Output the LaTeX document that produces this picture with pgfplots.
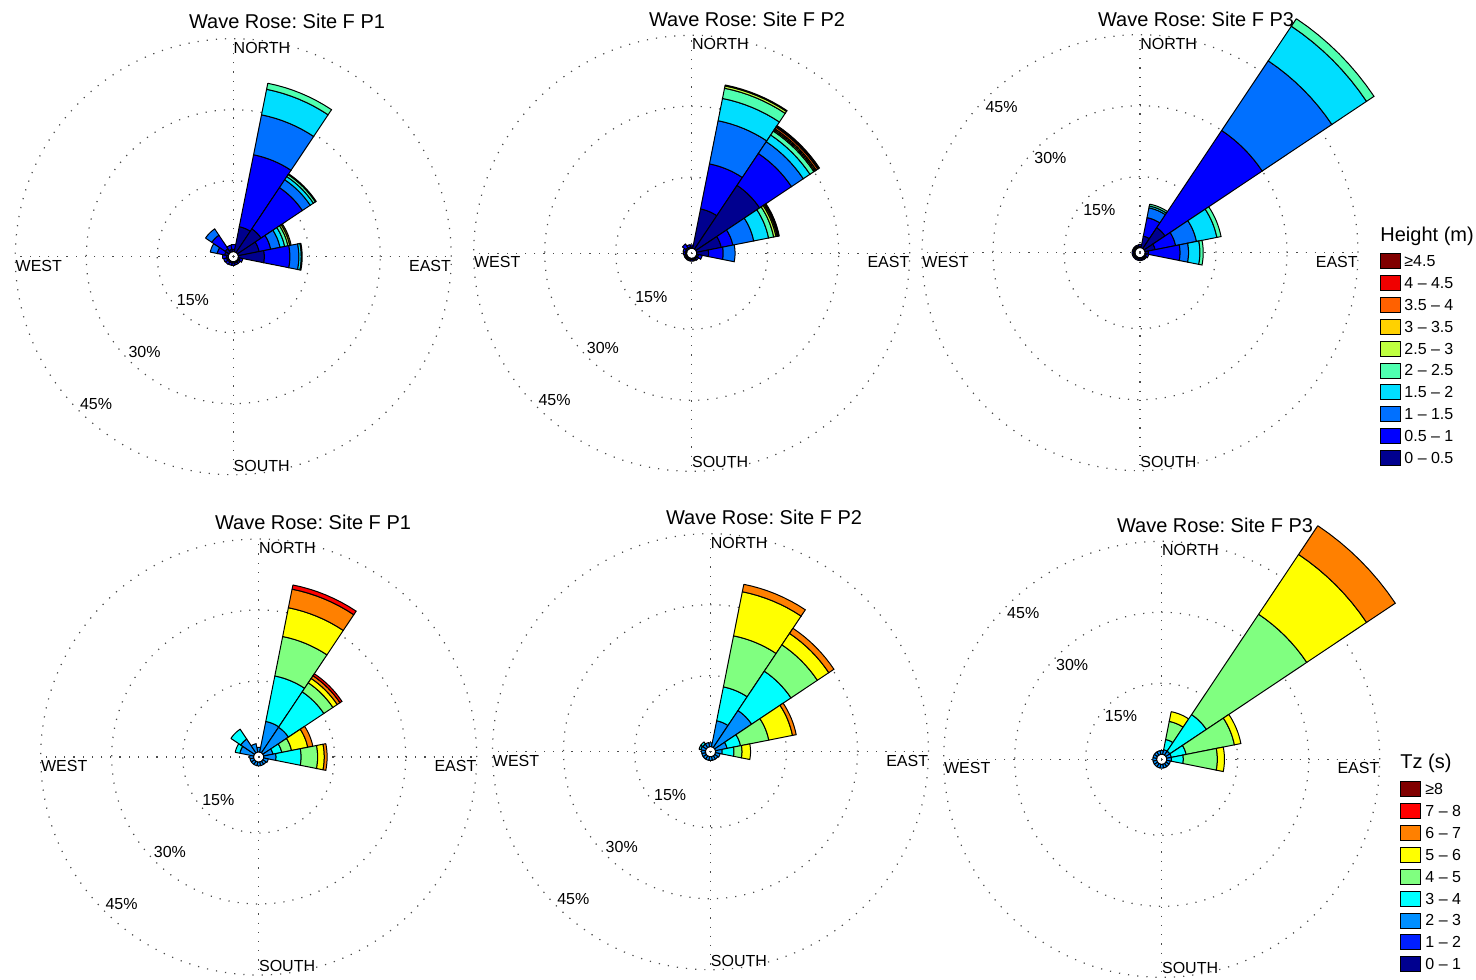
\documentclass[border=0pt]{standalone}
\usepackage{pgfplots}
\pgfplotsset{compat=1.18}
\usepackage{pgfplotstable}
\usepgfplotslibrary{polar}
\usepackage{fontspec}
\setmainfont{Liberation Sans}
\frenchspacing

\definecolor{h1}{rgb}{0,0,0.56}
\definecolor{h2}{rgb}{0,0,1}
\definecolor{h3}{rgb}{0,0.44,1}
\definecolor{h4}{rgb}{0,0.87,1}
\definecolor{h5}{rgb}{0.31,1,0.69}
\definecolor{h6}{rgb}{0.75,1,0.25}
\definecolor{h7}{rgb}{1,0.82,0}
\definecolor{h8}{rgb}{1,0.38,0}
\definecolor{h9}{rgb}{0.94,0,0}
\definecolor{h10}{rgb}{0.5,0,0}
\definecolor{t1}{rgb}{0,0,0.56}
\definecolor{t2}{rgb}{0,0.12,1}
\definecolor{t3}{rgb}{0,0.56,1}
\definecolor{t4}{rgb}{0,1,1}
\definecolor{t5}{rgb}{0.5,1,0.5}
\definecolor{t6}{rgb}{1,1,0}
\definecolor{t7}{rgb}{1,0.5,0}
\definecolor{t8}{rgb}{1,0,0}
\definecolor{t9}{rgb}{0.5,0,0}

\newcommand\fsmall{\fontsize{8}{9.6}\selectfont}
\newcommand\fbig{\fontsize{10}{12}\selectfont}
\newcommand\hole{1.06}

% one annular wedge: #1 compass direction, #2 inner %, #3 outer %, #4 colour
\newcommand\W[4]{%
  \pgfmathsetmacro\rA{#2+\hole}\pgfmathsetmacro\rB{#3+\hole}%
  \pgfmathsetmacro\aS{101.25-(#1)}%
  \xdef\wc{(\aS,\rB)}%
  \foreach \k in {1,2,3,4,5,6,7,8}{\pgfmathsetmacro\wang{\aS-2.8125*\k}\xdef\wc{\wc(\wang,\rB)}}%
  \foreach \k in {8,7,6,5,4,3,2,1,0}{\pgfmathsetmacro\wang{\aS-2.8125*\k}\xdef\wc{\wc(\wang,\rA)}}%
  \xdef\wc{\wc(\aS,\rB)}%
  \edef\tmp{\noexpand\addplot[draw=black,line width=0.5pt,fill=#4] coordinates {\wc};}%
  \tmp
}
% #1 table, #2 palette prefix, #3 number of bins
\newcommand\DrawRose[3]{%
  \pgfplotstablegetrowsof{#1}\pgfmathtruncatemacro\nrow{\pgfplotsretval-1}%
  \foreach \i in {0,...,\nrow}{%
    \pgfplotstablegetelem{\i}{dir}\of{#1}\let\cdir\pgfplotsretval
    \gdef\cum{0}%
    \foreach \j in {1,...,#3}{%
      \pgfplotstablegetelem{\i}{b\j}\of{#1}\let\bval\pgfplotsretval
      \pgfmathparse{\bval>0}%
      \ifdim\pgfmathresult pt>0.5pt
        \pgfmathsetmacro\newcum{\cum+\bval}%
        \W{\cdir}{\cum}{\newcum}{#2\j}%
        \xdef\cum{\newcum}%
      \fi
    }%
  }%
}

% Wave height roses: frequency (%) per direction and height bin
\pgfplotstableread{
dir b1 b2 b3 b4 b5 b6 b7 b8 b9 b10
0 0.5 1.0 0 0 0 0 0 0 0 0
22.5 5.4 15.5 8.6 5.5 1.3 0 0 0 0 0
45 6.0 10.5 2.0 0.8 0.5 0.2 0 0 0 0
67.5 4.5 2.5 2.0 1.0 0.7 0.4 0.3 0 0 0
90 5.5 5.4 1.9 0.5 0.2 0 0 0 0 0
112.5 0.4 0.6 0 0 0 0 0 0 0 0
135 0.3 0.4 0 0 0 0 0 0 0 0
157.5 0.3 0.4 0 0 0 0 0 0 0 0
180 0.3 0.5 0 0 0 0 0 0 0 0
202.5 0.3 0.5 0 0 0 0 0 0 0 0
225 0.3 0.6 0 0 0 0 0 0 0 0
247.5 0.4 0.6 0 0 0 0 0 0 0 0
270 0.4 0.8 0 0 0 0 0 0 0 0
292.5 0.8 1.6 1.5 0 0 0 0 0 0 0
315 1.0 3.4 1.6 0 0 0 0 0 0 0
337.5 0.5 0.9 0 0 0 0 0 0 0 0
}\tHa
\pgfplotstableread{
dir b1 b2 b3 b4 b5 b6 b7 b8 b9 b10
0 0.3 0.4 0 0 0 0 0 0 0 0
22.5 8.5 9.7 9.3 4.8 2.2 0.5 0.2 0 0 0
45 16.2 8.1 3.0 1.7 1.0 0.3 0.3 0.4 0.2 0.2
67.5 5.3 2.5 4.5 3.2 1.1 0.5 0.3 0.1 0.1 0.2
90 2.5 3.1 2.5 0 0 0 0 0 0 0
112.5 0.4 0.8 0 0 0 0 0 0 0 0
135 0.3 0.4 0 0 0 0 0 0 0 0
157.5 0.3 0.3 0 0 0 0 0 0 0 0
180 0.3 0.3 0 0 0 0 0 0 0 0
202.5 0.3 0.3 0 0 0 0 0 0 0 0
225 0.3 0.3 0 0 0 0 0 0 0 0
247.5 0.3 0.3 0 0 0 0 0 0 0 0
270 0.3 0.4 0 0 0 0 0 0 0 0
292.5 0.3 0.5 0 0 0 0 0 0 0 0
315 0.4 0.9 0 0 0 0 0 0 0 0
337.5 0.3 0.5 0 0 0 0 0 0 0 0
}\tHb
\pgfplotstableread{
dir b1 b2 b3 b4 b5 b6 b7 b8 b9 b10
0 0.3 0.4 0 0 0 0 0 0 0 0
22.5 2.5 4.0 2.1 0.4 0.4 0 0 0 0 0
45 5.3 24.7 17.7 8.8 1.9 0 0 0 0 0
67.5 2.2 4.4 4.5 4.4 0.9 0 0 0 0 0
90 0.7 6.7 1.8 2.4 0.7 0 0 0 0 0
112.5 0.3 0.5 0 0 0 0 0 0 0 0
135 0.3 0.3 0 0 0 0 0 0 0 0
157.5 0.3 0.3 0 0 0 0 0 0 0 0
180 0.3 0.3 0 0 0 0 0 0 0 0
202.5 0.3 0.3 0 0 0 0 0 0 0 0
225 0.3 0.3 0 0 0 0 0 0 0 0
247.5 0.3 0.3 0 0 0 0 0 0 0 0
270 0.3 0.3 0 0 0 0 0 0 0 0
292.5 0.3 0.3 0 0 0 0 0 0 0 0
315 0.3 0.3 0 0 0 0 0 0 0 0
337.5 0.3 0.3 0 0 0 0 0 0 0 0
}\tHc
% Zero-crossing period roses
\pgfplotstableread{
dir b1 b2 b3 b4 b5 b6 b7 b8 b9
0 0 0 1.0 0 0 0 0 0 0
22.5 0 0 6.6 9.8 8.5 6.2 4.0 0.9 0
45 0 0 6.5 9.0 2.3 1.1 0.7 0.5 0
67.5 0 0 2.0 1.9 2.1 3.5 1.1 0 0
90 0 0 2.6 5.3 3.5 1.4 0.6 0 0
112.5 0 0 1.0 0 0 0 0 0 0
135 0 0 0.8 0 0 0 0 0 0
157.5 0 0 0.8 0 0 0 0 0 0
180 0 0 0.8 0 0 0 0 0 0
202.5 0 0 0.8 0 0 0 0 0 0
225 0 0 0.8 0 0 0 0 0 0
247.5 0 0 0.8 0 0 0 0 0 0
270 0 0 0.8 0 0 0 0 0 0
292.5 0 0 3.0 1.0 0 0 0 0 0
315 0 0 3.5 2.5 0 0 0 0 0
337.5 0 0 1.8 0 0 0 0 0 0
}\tTa
\pgfplotstableread{
dir b1 b2 b3 b4 b5 b6 b7 b8 b9
0 0 0 0.8 0 0 0 0 0 0
22.5 0 0 5.6 7.3 11.0 9.5 1.6 0 0
45 0 0 9.4 10.0 6.7 2.9 1.3 0 0
67.5 0 0 2.5 2.9 6.1 5.1 0.8 0 0
90 0 0 1.4 2.5 1.7 1.8 0 0 0
112.5 0 0 1.0 0 0 0 0 0 0
135 0 0 0.8 0 0 0 0 0 0
157.5 0 0 0.8 0 0 0 0 0 0
180 0 0 0.8 0 0 0 0 0 0
202.5 0 0 0.8 0 0 0 0 0 0
225 0 0 0.8 0 0 0 0 0 0
247.5 0 0 0.8 0 0 0 0 0 0
270 0 0 0.8 0 0 0 0 0 0
292.5 0 0 1.0 0.4 0 0 0 0 0
315 0 0 0.9 0.5 0 0 0 0 0
337.5 0 0 0.9 0 0 0 0 0 0
}\tTb
\pgfplotstableread{
dir b1 b2 b3 b4 b5 b6 b7 b8 b9
0 0 0 0.8 0 0 0 0 0 0
22.5 0 0 1.0 2.2 3.9 2.1 0 0 0
45 0 0 1.0 9.3 25.5 15.2 7.3 0 0
67.5 0 0 1.0 3.2 10.4 1.4 0 0 0
90 0 0 1.0 2.5 7.2 1.5 0 0 0
112.5 0 0 0.8 0 0 0 0 0 0
135 0 0 0.8 0 0 0 0 0 0
157.5 0 0 0.8 0 0 0 0 0 0
180 0 0 0.8 0 0 0 0 0 0
202.5 0 0 0.8 0 0 0 0 0 0
225 0 0 0.8 0 0 0 0 0 0
247.5 0 0 0.8 0 0 0 0 0 0
270 0 0 0.8 0 0 0 0 0 0
292.5 0 0 0.8 0 0 0 0 0 0
315 0 0 0.8 0 0 0 0 0 0
337.5 0 0 0.8 0 0 0 0 0 0
}\tTc

\pgfplotsset{rose/.style={
  scale only axis, width=218pt, height=218pt, anchor=center,
  xmin=0, xmax=360, ymin=0, ymax=46.06, clip=false,
  xtick={0,90,180,270}, ytick={16.06,31.06},
  xticklabel={\relax}, yticklabel={\relax}, major tick length=0pt,
  xmajorgrids, ymajorgrids,
  grid style={black!70, line width=0.6pt, dash pattern=on 0.6pt off 4pt},
  axis line style={black!70, line width=0.6pt, dash pattern=on 0.6pt off 4pt},
}}
\newcommand\Compass{%
  \node[anchor=north west, inner xsep=0pt, inner ysep=1.5pt, font=\fsmall] at (axis cs:90,46.06) {NORTH};
  \node[anchor=south west, inner xsep=0pt, inner ysep=1.5pt, font=\fsmall] at (axis cs:270,46.06) {SOUTH};
  \node[anchor=north east, inner xsep=0pt, inner ysep=1.5pt, font=\fsmall] at (axis cs:0,46.06) {EAST};
  \node[anchor=north west, inner xsep=0pt, inner ysep=1.5pt, font=\fsmall] at (axis cs:180,46.06) {WEST};
}
\newcommand\Pct[1]{%
  \node[font=\fsmall, inner sep=0pt] at (axis cs:#1,12.5) {15\%};
  \node[font=\fsmall, inner sep=0pt] at (axis cs:#1,27.5) {30\%};
  \node[font=\fsmall, inner sep=0pt] at (axis cs:#1,42.5) {45\%};
}

\begin{document}
\begin{tikzpicture}
\useasboundingbox (0,0) rectangle (738pt,489.5pt);

\begin{polaraxis}[rose, at={(116.65pt,361.15pt)}]
\DrawRose{\tHa}{h}{10}
\Compass \Pct{227}
\end{polaraxis}
\begin{polaraxis}[rose, at={(345.85pt,362.85pt)}]
\DrawRose{\tHb}{h}{10}
\Compass \Pct{227}
\end{polaraxis}
\begin{polaraxis}[rose, at={(570pt,363.15pt)}]
\DrawRose{\tHc}{h}{10}
\Compass \Pct{133.5}
\end{polaraxis}
\begin{polaraxis}[rose, at={(129.35pt,111pt)}]
\DrawRose{\tTa}{t}{9}
\Compass \Pct{227}
\end{polaraxis}
\begin{polaraxis}[rose, at={(355.25pt,113.65pt)}]
\DrawRose{\tTb}{t}{9}
\Compass \Pct{227}
\end{polaraxis}
\begin{polaraxis}[rose, at={(580.85pt,109.85pt)}]
\DrawRose{\tTc}{t}{9}
\Compass \Pct{133.5}
\end{polaraxis}

\node[font=\fbig] at (143.5pt,479pt) {Wave Rose: Site F P1};
\node[font=\fbig] at (373.5pt,480pt) {Wave Rose: Site F P2};
\node[font=\fbig] at (598pt,480pt) {Wave Rose: Site F P3};
\node[font=\fbig] at (156.5pt,228.5pt) {Wave Rose: Site F P1};
\node[font=\fbig] at (382pt,231pt) {Wave Rose: Site F P2};
\node[font=\fbig] at (607.5pt,227pt) {Wave Rose: Site F P3};

\node[font=\fbig, anchor=west, inner sep=0pt] at (690pt,371.5pt) {Height (m)};
\foreach \c/\t [count=\n from 0] in {h10/{≥4.5},h9/{4 – 4.5},h8/{3.5 – 4},h7/{3 – 3.5},h6/{2.5 – 3},h5/{2 – 2.5},h4/{1.5 – 2},h3/{1 – 1.5},h2/{0.5 – 1},h1/{0 – 0.5}}{
  \pgfmathsetmacro\yy{(979-(261+21.9*\n))/2}
  \filldraw[fill=\c, draw=black, line width=0.4pt] (690pt,\yy pt-3.75pt) rectangle (700pt,\yy pt+3.75pt);
  \node[anchor=west, inner sep=0pt, font=\fsmall] at (702pt,\yy pt) {\t};
}
\node[font=\fbig, anchor=west, inner sep=0pt] at (700pt,108pt) {Tz (s)};
\foreach \c/\t [count=\n from 0] in {t9/{≥8},t8/{7 – 8},t7/{6 – 7},t6/{5 – 6},t5/{4 – 5},t4/{3 – 4},t3/{2 – 3},t2/{1 – 2},t1/{0 – 1}}{
  \pgfmathsetmacro\yy{(979-(789+21.9*\n))/2}
  \filldraw[fill=\c, draw=black, line width=0.4pt] (700pt,\yy pt-3.75pt) rectangle (710pt,\yy pt+3.75pt);
  \node[anchor=west, inner sep=0pt, font=\fsmall] at (712.5pt,\yy pt) {\t};
}
\end{tikzpicture}
\end{document}
